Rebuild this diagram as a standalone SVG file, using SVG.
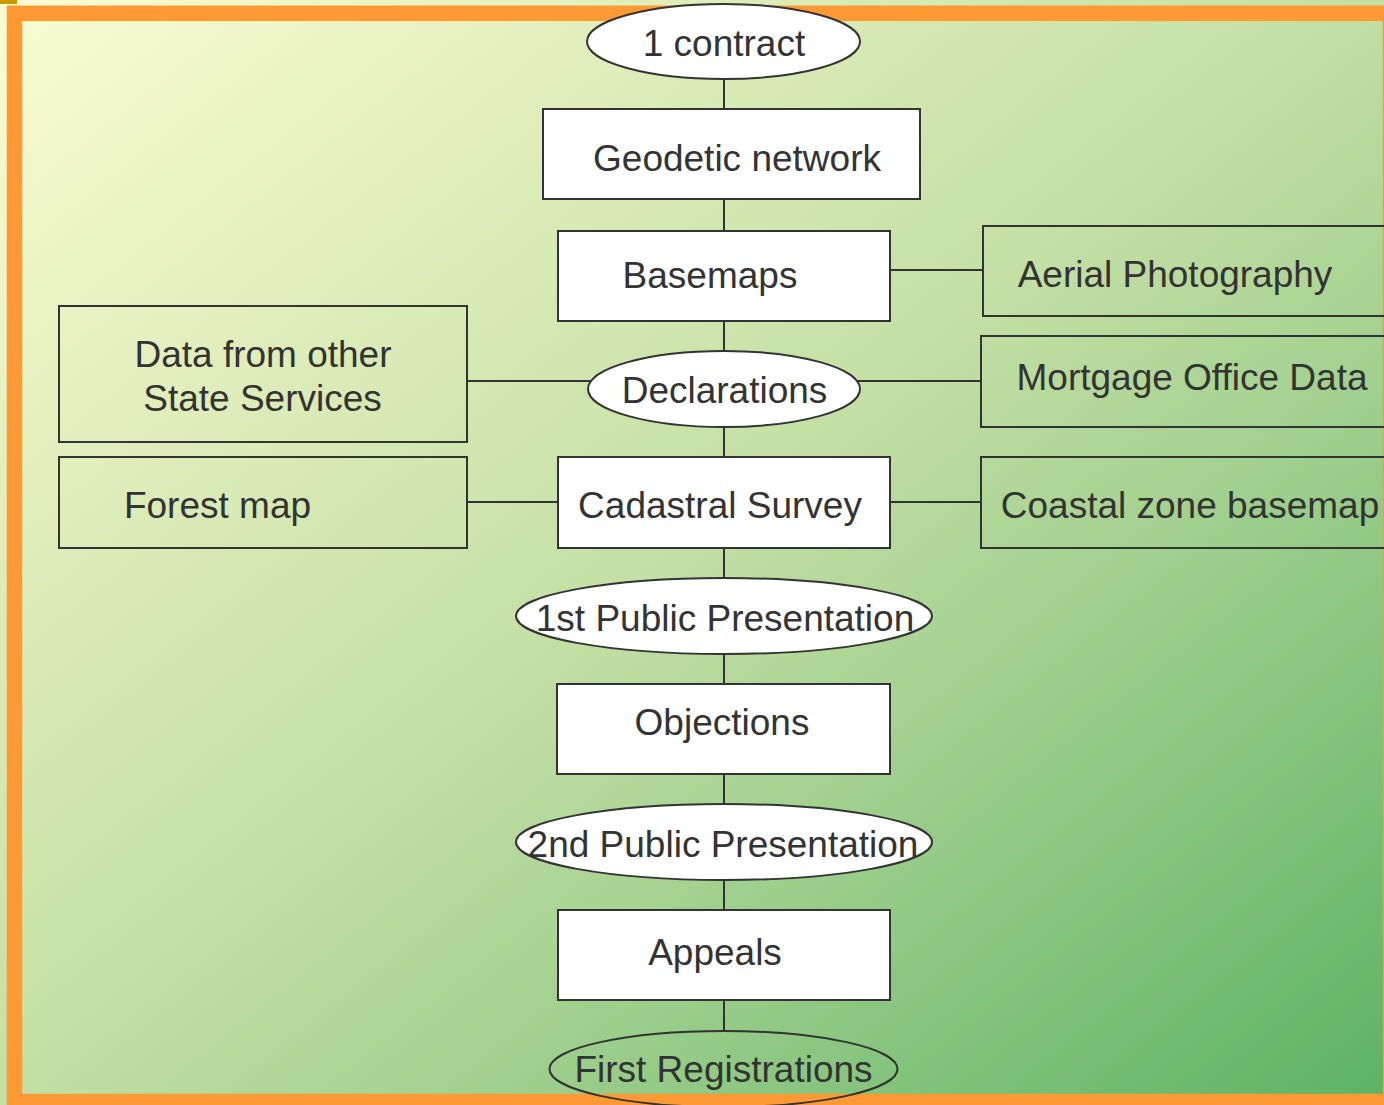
<svg xmlns="http://www.w3.org/2000/svg" width="1384" height="1105" viewBox="0 0 1384 1105">
<defs>
<linearGradient id="bg" x1="0" y1="0" x2="1" y2="1">
<stop offset="0" stop-color="#FBFCD2"/>
<stop offset="0.5" stop-color="#C3DFA3"/>
<stop offset="1" stop-color="#5CB363"/>
</linearGradient>
<style>
.n{stroke:#333333;stroke-width:2;fill:#FFFFFF}
.o{stroke:#333333;stroke-width:2;fill:none}
.c{stroke:#333333;stroke-width:2;fill:none}
text{font-family:"Liberation Sans",Arial,sans-serif;font-size:37px;fill:#333333;text-anchor:middle}
</style>
</defs>
<rect x="0" y="0" width="1384" height="1105" fill="url(#bg)"/>
<rect x="0" y="0" width="17" height="4" fill="#CC9900"/>
<rect x="14.5" y="13.3" width="1376" height="1088.2" fill="none" stroke="#FF9933" stroke-width="15.5"/>
<g id="connectors">
<line class="c" x1="724" y1="79" x2="724" y2="109"/>
<line class="c" x1="724" y1="199" x2="724" y2="231"/>
<line class="c" x1="724" y1="321" x2="724" y2="351"/>
<line class="c" x1="724" y1="427" x2="724" y2="457"/>
<line class="c" x1="724" y1="548" x2="724" y2="578"/>
<line class="c" x1="724" y1="654" x2="724" y2="684"/>
<line class="c" x1="724" y1="774" x2="724" y2="804"/>
<line class="c" x1="724" y1="880" x2="724" y2="910"/>
<line class="c" x1="724" y1="1000" x2="724" y2="1031"/>
<line class="c" x1="890" y1="270" x2="983" y2="270"/>
<line class="c" x1="467" y1="381" x2="591" y2="381"/>
<line class="c" x1="857" y1="381" x2="981" y2="381"/>
<line class="c" x1="467" y1="502" x2="558" y2="502"/>
<line class="c" x1="890" y1="502" x2="981" y2="502"/>
</g>
<g id="contract">
<ellipse class="n" cx="723.5" cy="41.5" rx="136.5" ry="37.5"/>
<text x="724" y="56">1 contract</text>
</g>
<g id="geodetic">
<rect class="n" x="543" y="109" width="377" height="90"/>
<text x="737" y="171">Geodetic network</text>
</g>
<g id="basemaps">
<rect class="n" x="558" y="231" width="332" height="90"/>
<text x="710" y="288">Basemaps</text>
</g>
<g id="aerial">
<rect class="o" x="983" y="226" width="420" height="90"/>
<text x="1175" y="287">Aerial Photography</text>
</g>
<g id="datafrom">
<rect class="o" x="59" y="306" width="408" height="136"/>
<text x="263" y="367">Data from other</text>
<text x="262.5" y="411">State Services</text>
</g>
<g id="declarations">
<ellipse class="n" cx="724" cy="389" rx="136" ry="38"/>
<text x="724.5" y="403">Declarations</text>
</g>
<g id="mortgage">
<rect class="o" x="981" y="336" width="420" height="91"/>
<text x="1192" y="390">Mortgage Office Data</text>
</g>
<g id="forest">
<rect class="o" x="59" y="457" width="408" height="91"/>
<text x="217.5" y="518">Forest map</text>
</g>
<g id="cadastral">
<rect class="n" x="558" y="457" width="332" height="91"/>
<text x="720" y="518">Cadastral Survey</text>
</g>
<g id="coastal">
<rect class="o" x="981" y="457" width="420" height="91"/>
<text x="1190" y="518">Coastal zone basemap</text>
</g>
<g id="public1">
<ellipse class="n" cx="724" cy="616" rx="208" ry="38"/>
<text x="725" y="631">1st Public Presentation</text>
</g>
<g id="objections">
<rect class="n" x="557" y="684" width="333" height="90"/>
<text x="722" y="735">Objections</text>
</g>
<g id="public2">
<ellipse class="n" cx="724" cy="842" rx="208" ry="38"/>
<text x="723" y="857">2nd Public Presentation</text>
</g>
<g id="appeals">
<rect class="n" x="558" y="910" width="332" height="90"/>
<text x="715" y="965">Appeals</text>
</g>
<g id="firstreg">
<ellipse class="o" cx="723.5" cy="1069" rx="174" ry="38"/>
<text x="723.5" y="1082">First Registrations</text>
</g>
</svg>
